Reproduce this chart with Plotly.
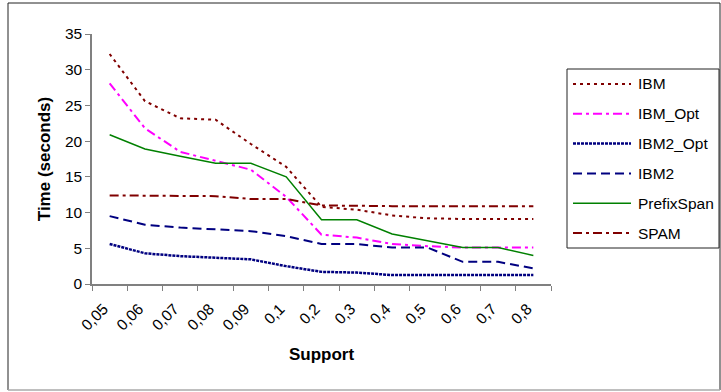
import plotly.graph_objects as go

categories = ["0,05", "0,06", "0,07", "0,08", "0,09", "0,1", "0,2", "0,3", "0,4", "0,5", "0,6", "0,7", "0,8"]
ibm = [32.2, 25.6, 23.2, 23.0, 19.6, 16.4, 10.8, 10.4, 9.6, 9.2, 9.1, 9.1, 9.1]
ibm_opt = [28.1, 21.8, 18.5, 17.2, 16.0, 12.2, 6.9, 6.5, 5.6, 5.3, 5.1, 5.1, 5.1]
ibm2_opt = [5.6, 4.3, 3.9, 3.7, 3.45, 2.5, 1.7, 1.6, 1.25, 1.25, 1.25, 1.25, 1.25]
ibm2 = [9.5, 8.3, 7.9, 7.7, 7.4, 6.7, 5.6, 5.6, 5.1, 5.1, 3.1, 3.1, 2.2]
prefixspan = [20.9, 18.9, 17.9, 16.9, 16.9, 15.0, 9.0, 9.0, 7.0, 6.0, 5.1, 5.1, 4.0]
spam = [12.4, 12.4, 12.4, 12.3, 11.9, 11.9, 11.0, 10.9, 10.9, 10.9, 10.9, 10.9, 10.9]
y_ticks = [0, 5, 10, 15, 20, 25, 30, 35]

series = [
    ("IBM", ibm, "#800000", "3px,4px", 2),
    ("IBM_Opt", ibm_opt, "#FF00FF", "9px,4px,3px,4px", 2),
    ("IBM2_Opt", ibm2_opt, "#000080", "3px,1px", 2.5),
    ("IBM2", ibm2, "#000080", "9px,5px", 2),
    ("PrefixSpan", prefixspan, "#008000", "solid", 1.5),
    ("SPAM", spam, "#800000", "9px,4px,3px,4px", 2),
]

FONT = "Liberation Sans, Arial, sans-serif"
W, H = 721, 392
L, R, T, B = 92, 170, 34, 108
PW, PH = W - L - R, H - T - B


def px(x):
    return (x - L) / PW


def py(y):
    return (H - B - y) / PH


fig = go.Figure()
for name, vals, color, dash, width in series:
    fig.add_trace(go.Scatter(
        x=categories, y=vals, mode="lines", name=name,
        line=dict(color=color, dash=dash, width=width),
        showlegend=False,
    ))

shapes = []
annotations = []
# outer chart frame
shapes.append(dict(type="line", xref="paper", yref="paper", x0=px(8), x1=px(8), y0=py(3), y1=py(390),
                   line=dict(color="#222222", width=1)))
shapes.append(dict(type="line", xref="paper", yref="paper", x0=px(8), x1=px(720), y0=py(3), y1=py(3),
                   line=dict(color="#222222", width=1)))
shapes.append(dict(type="line", xref="paper", yref="paper", x0=px(720), x1=px(720), y0=py(3), y1=py(390),
                   line=dict(color="#222222", width=1)))
shapes.append(dict(type="line", xref="paper", yref="paper", x0=px(8), x1=px(720), y0=py(390), y1=py(390),
                   line=dict(color="#aaaaaa", width=1.5)))
# legend box
shapes.append(dict(type="rect", xref="paper", yref="paper", x0=px(567), x1=px(719), y0=py(69), y1=py(248),
                   line=dict(color="#222222", width=1), fillcolor="white"))
for i, (name, vals, color, dash, width) in enumerate(series):
    yy = 84 + 29.8 * i
    shapes.append(dict(type="line", xref="paper", yref="paper", x0=px(573), x1=px(631), y0=py(yy), y1=py(yy),
                       line=dict(color=color, dash=dash, width=width)))
    annotations.append(dict(text=name, xref="paper", yref="paper", x=px(636), y=py(yy),
                            xanchor="left", yanchor="middle", showarrow=False,
                            font=dict(family=FONT, size=15.5, color="black")))

fig.update_layout(
    width=W, height=H,
    margin=dict(l=L, r=R, t=T, b=B),
    paper_bgcolor="white", plot_bgcolor="white",
    font=dict(family=FONT, size=15, color="black"),
    shapes=shapes, annotations=annotations,
    xaxis=dict(
        type="category", tickson="boundaries", ticks="outside", ticklen=5, tickcolor="#808080",
        tickangle=-45, showline=True, linecolor="#808080", linewidth=1.5, showgrid=False,
        tickfont=dict(family=FONT, size=15.5), ticklabelstandoff=8, ticklabelshift=-6,
        title=dict(text="<b>Support</b>", font=dict(family=FONT, size=17), standoff=16),
        range=[-0.5, len(categories) - 0.5],
    ),
    yaxis=dict(
        range=[0, 35], tickvals=y_ticks, ticks="outside", ticklen=5, tickcolor="#808080",
        showline=True, linecolor="#808080", linewidth=1.5, showgrid=False, zeroline=False,
        tickfont=dict(family=FONT, size=15.5),
        title=dict(text="<b>Time (seconds)</b>", font=dict(family=FONT, size=17), standoff=10),
    ),
)

fig.write_html("out.html")
